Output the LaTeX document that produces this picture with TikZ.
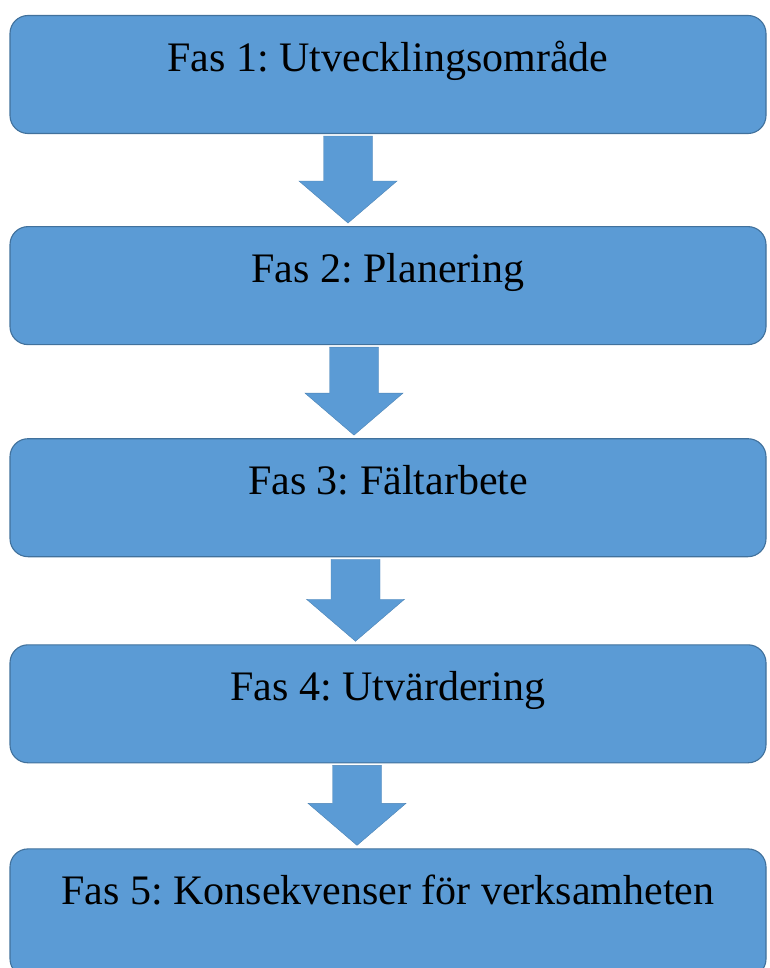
\documentclass[tikz,border=0pt]{standalone}
\usepackage{fontspec}
\setmainfont{Liberation Serif}
\usetikzlibrary{positioning,calc}
\definecolor{PhaseBlue}{HTML}{5B9BD5}
\definecolor{PhaseEdge}{HTML}{41719C}
\frenchspacing

% block arrow between two phases: from, to, x offset from the box centre
\newcommand{\phasearrow}[3]{%
  \fill[blockarrow] let \p1=(#1.south), \p2=(#2.north) in
    (\x1+#3-24.5,\y1-2) -- (\x1+#3+24.5,\y1-2) -- (\x1+#3+24.5,\y2+45)
    -- (\x1+#3+49,\y2+45) -- (\x1+#3,\y2+3) -- (\x1+#3-49,\y2+45)
    -- (\x1+#3-24.5,\y2+45) -- cycle;}

\begin{document}
\begin{tikzpicture}[x=1pt,y=1pt,
    phase/.style={draw=PhaseEdge,line width=1.1pt,rounded corners=18pt,
      fill=PhaseBlue,minimum width=756pt,inner sep=0pt,
      text height=56pt,text depth=62pt,
      font=\fontsize{42}{50}\selectfont},
    blockarrow/.style={fill=PhaseBlue,draw=PhaseBlue!85!black,line width=0.4pt}
  ]
    \useasboundingbox (0,0) rectangle (769,-968);
    \node[phase] (s1) at (388,-74.5) {Fas 1: Utvecklingsområde};
    \node[phase,below=92pt of s1] (s2) {Fas 2: Planering};
    \node[phase,below=93pt of s2] (s3) {Fas 3: Fältarbete};
    \node[phase,below=87pt of s3] (s4) {Fas 4: Utvärdering};
    \node[phase,below=85pt of s4,text depth=72pt] (s5) {Fas 5: Konsekvenser för verksamheten};
    \phasearrow{s1}{s2}{-40}
    \phasearrow{s2}{s3}{-34}
    \phasearrow{s3}{s4}{-32.5}
    \phasearrow{s4}{s5}{-31}
  \end{tikzpicture}
\end{document}
